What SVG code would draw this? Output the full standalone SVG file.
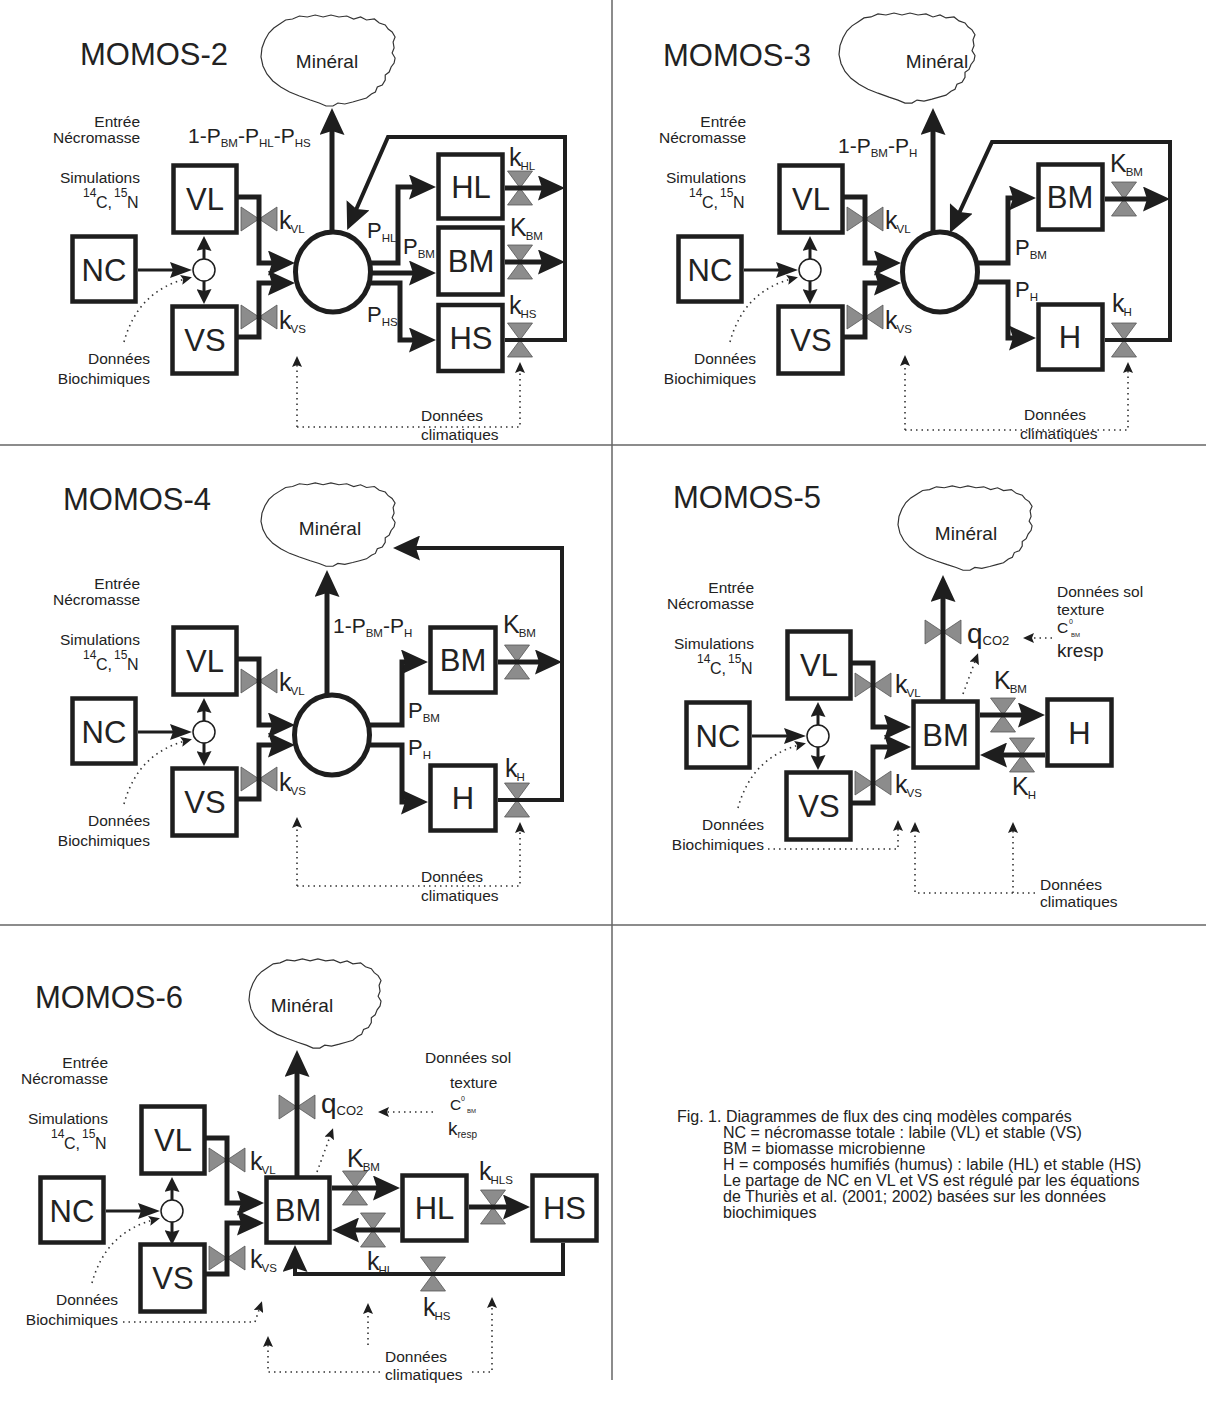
<svg xmlns="http://www.w3.org/2000/svg" width="1206" height="1405" viewBox="0 0 1206 1405">
<style>
text{font-family:"Liberation Sans",Arial,sans-serif;fill:#222}
.ttl{font-size:31px}
.bl{font-size:31px;text-anchor:middle}
.sm{font-size:15.5px}
.iso{font-size:12px}
.cn{font-size:16px}
.lab{font-size:22px}
.kl{font-size:25px}
.sub{font-size:11.5px}
.mn{font-size:19px;text-anchor:middle}
.cap{font-size:16px}
.box{fill:#fff;stroke:#1e1e1e;stroke-width:4.5}
.ell{fill:#fff;stroke:#1e1e1e;stroke-width:5}
.l5{fill:none;stroke:#1e1e1e;stroke-width:5}
.l4{fill:none;stroke:#1e1e1e;stroke-width:4}
.l3{fill:none;stroke:#1e1e1e;stroke-width:3}
.dot{fill:none;stroke:#333;stroke-width:1.6;stroke-dasharray:1.5 4}
.junc{fill:#fff;stroke:#1e1e1e;stroke-width:1.5}
.cloud{fill:#fff;stroke:#333;stroke-width:1.2}
.sep{stroke:#666;stroke-width:1.5}
.valve polygon{fill:#8c8c8c;stroke:#555;stroke-width:0.8}
</style>
<defs>
<marker id="ab" viewBox="0 0 27 25" markerWidth="27" markerHeight="25" refX="15" refY="12.5" orient="auto" markerUnits="userSpaceOnUse"><path d="M0,0 L27,12.5 L0,25 L4,12.5 Z" fill="#1e1e1e"/></marker>
<marker id="am" viewBox="0 0 22 16" markerWidth="22" markerHeight="16" refX="14" refY="8" orient="auto" markerUnits="userSpaceOnUse"><path d="M0,0 L22,8 L0,16 L3,8 Z" fill="#1e1e1e"/></marker>
<marker id="as" viewBox="0 0 15 15" markerWidth="15" markerHeight="15" refX="9" refY="7.5" orient="auto" markerUnits="userSpaceOnUse"><path d="M0,0 L15,7.5 L0,15 L2,7.5 Z" fill="#1e1e1e"/></marker>
<marker id="ad" viewBox="0 0 11 10" markerWidth="11" markerHeight="10" refX="8" refY="5" orient="auto" markerUnits="userSpaceOnUse"><path d="M0,0 L11,5 L0,10 L2,5 Z" fill="#1e1e1e"/></marker>
<g id="vh" class="valve"><polygon points="-18,-12 -18,12 0,0"/><polygon points="18,-12 18,12 0,0"/></g>
<g id="vv" class="valve"><polygon points="-12.5,-17 12.5,-17 0,0"/><polygon points="-12.5,17 12.5,17 0,0"/></g>
<path id="cl" d="M20,10 L14,14 L9,19 L5,26 L2,34 L1,43 L3,52 L7,60 L13,67 L21,73 L30,78 L40,82 L51,86 L60,89 L67,92 L74,92 L79,89 L86,90 L94,88 L101,86 L108,84 L113,80 L117,78 L119,73 L124,71 L127,66 L127,61 L131,58 L133,53 L136,49 L137,44 L134,39 L136,34 L135,28 L137,23 L134,18 L130,15 L127,11 L121,9 L116,5 L108,6 L102,3 L95,5 L88,2 L80,3 L72,1 L64,3 L56,1 L48,3 L40,2 L33,5 L26,6 Z"/>
</defs>
<rect width="1206" height="1405" fill="#fff"/>

<g id="separators">
<line x1="0" y1="445" x2="1206" y2="445" class="sep"/>
<line x1="0" y1="925" x2="1206" y2="925" class="sep"/>
<line x1="612" y1="0" x2="612" y2="1380" class="sep"/>
</g>

<!-- ================= PANEL 1 : MOMOS-2 ================= -->
<g id="panel1">
<text x="80" y="65" class="ttl">MOMOS-2</text>
<g id="p1-mineral"><use href="#cl" class="cloud" transform="translate(260,14) scale(0.986,1)" style="vector-effect:non-scaling-stroke"/><text x="327" y="68" class="mn">Minéral</text></g>
<g id="p1-left">
<text x="140" y="127" class="sm" text-anchor="end">Entrée</text>
<text x="140" y="143" class="sm" text-anchor="end">Nécromasse</text>
<text x="140" y="183" class="sm" text-anchor="end">Simulations</text>
<text x="83" y="197" class="iso">14</text><text x="96" y="208" class="cn">C,</text>
<text x="114" y="197" class="iso">15</text><text x="127" y="208" class="cn">N</text>
<text x="150" y="364" class="sm" text-anchor="end">Données</text>
<text x="150" y="384" class="sm" text-anchor="end">Biochimiques</text>
</g>
<g id="p1-valves"><use href="#vh" x="259" y="219"/><use href="#vh" x="259" y="317"/><use href="#vv" x="520" y="188"/><use href="#vv" x="520" y="262"/><use href="#vv" x="520" y="340"/></g>
<g id="p1-connectors">
<path d="M138,270 H184" class="l3" marker-end="url(#am)"/>
<path d="M204,259 V242" class="l3" marker-end="url(#as)"/>
<path d="M204,281 V298" class="l3" marker-end="url(#as)"/>
<path d="M236,197 H259 V263 H283" class="l5" marker-end="url(#ab)"/>
<path d="M237,337 H259 V283 H283" class="l5" marker-end="url(#ab)"/>
<path d="M124,342 Q138,290 189,278" class="dot" marker-end="url(#ad)"/>
<path d="M332,232 V120" class="l5" marker-end="url(#ab)"/>
<path d="M368,263 H398 V187 H424" class="l5" marker-end="url(#ab)"/>
<path d="M370,273 H424" class="l5" marker-end="url(#ab)"/>
<path d="M368,283 H400 V340 H424" class="l5" marker-end="url(#ab)"/>
<path d="M505,188 H553" class="l5" marker-end="url(#ab)"/>
<path d="M505,262 H553" class="l5" marker-end="url(#ab)"/>
<path d="M505,340 H565 V137 H388 L352,219" class="l4" marker-end="url(#ab)"/>
<path d="M297,427 V359" class="dot" marker-end="url(#ad)"/>
<path d="M297,427 H520 V365" class="dot" marker-end="url(#ad)"/>
</g>
<g id="p1-NC"><rect x="72.5" y="236.5" width="63" height="65" class="box"/><text x="104" y="281" class="bl">NC</text></g>
<g id="p1-VL"><rect x="173.5" y="165.5" width="63" height="67" class="box"/><text x="205" y="210" class="bl">VL</text></g>
<g id="p1-VS"><rect x="172.5" y="306.5" width="64" height="67" class="box"/><text x="205" y="351" class="bl">VS</text></g>
<g id="p1-junction"><circle cx="204" cy="270" r="11" class="junc"/></g>
<g id="p1-pool"><ellipse cx="333" cy="272" rx="37.5" ry="40" class="ell"/></g>
<g id="p1-HL"><rect x="438.5" y="154.5" width="64" height="64" class="box"/><text x="471" y="198" class="bl">HL</text></g>
<g id="p1-BM"><rect x="438.5" y="227.5" width="64" height="67" class="box"/><text x="471" y="272" class="bl">BM</text></g>
<g id="p1-HS"><rect x="438.5" y="305" width="64" height="66" class="box"/><text x="471" y="349" class="bl">HS</text></g>
<g id="p1-labels">
<text x="188" y="143" style="font-size:21px">1-P<tspan class="sub" dy="4">BM</tspan><tspan dy="-4">-P</tspan><tspan class="sub" dy="4">HL</tspan><tspan dy="-4">-P</tspan><tspan class="sub" dy="4">HS</tspan></text>
<text x="279" y="229" class="kl">k<tspan class="sub" dx="-1" dy="4">VL</tspan></text>
<text x="279" y="329" class="kl">k<tspan class="sub" dx="-1" dy="4">VS</tspan></text>
<text x="367" y="238" class="lab">P<tspan class="sub" dy="4">HL</tspan></text>
<text x="403" y="254" class="lab">P<tspan class="sub" dy="4">BM</tspan></text>
<text x="367" y="322" class="lab">P<tspan class="sub" dy="4">HS</tspan></text>
<text x="509" y="166" class="kl">k<tspan class="sub" dx="-1" dy="4">HL</tspan></text>
<text x="510" y="236" class="kl">K<tspan class="sub" dx="-1" dy="4">BM</tspan></text>
<text x="509" y="314" class="kl">k<tspan class="sub" dx="-1" dy="4">HS</tspan></text>
<text x="421" y="421" class="sm">Données</text>
<text x="421" y="440" class="sm">climatiques</text>
</g>
</g>

<!-- ================= PANEL 2 : MOMOS-3 ================= -->
<g id="panel2">
<text x="663" y="66" class="ttl">MOMOS-3</text>
<g id="p2-mineral"><use href="#cl" class="cloud" transform="translate(838,12) scale(1,0.99)" style="vector-effect:non-scaling-stroke"/><text x="937" y="68" class="mn">Minéral</text></g>
<g transform="translate(606,0)">
<g id="p2-left">
<text x="140" y="127" class="sm" text-anchor="end">Entrée</text>
<text x="140" y="143" class="sm" text-anchor="end">Nécromasse</text>
<text x="140" y="183" class="sm" text-anchor="end">Simulations</text>
<text x="83" y="197" class="iso">14</text><text x="96" y="208" class="cn">C,</text>
<text x="114" y="197" class="iso">15</text><text x="127" y="208" class="cn">N</text>
<text x="150" y="364" class="sm" text-anchor="end">Données</text>
<text x="150" y="384" class="sm" text-anchor="end">Biochimiques</text>
</g>
<g id="p2-valves-left"><use href="#vh" x="259" y="219"/><use href="#vh" x="259" y="317"/></g>
<g id="p2-connectors-left">
<path d="M138,270 H184" class="l3" marker-end="url(#am)"/>
<path d="M204,259 V242" class="l3" marker-end="url(#as)"/>
<path d="M204,281 V298" class="l3" marker-end="url(#as)"/>
<path d="M236,197 H259 V263 H283" class="l5" marker-end="url(#ab)"/>
<path d="M237,337 H259 V283 H283" class="l5" marker-end="url(#ab)"/>
<path d="M124,342 Q138,290 189,278" class="dot" marker-end="url(#ad)"/>
</g>
<g id="p2-NC"><rect x="72.5" y="236.5" width="63" height="65" class="box"/><text x="104" y="281" class="bl">NC</text></g>
<g id="p2-VL"><rect x="173.5" y="165.5" width="63" height="67" class="box"/><text x="205" y="210" class="bl">VL</text></g>
<g id="p2-VS"><rect x="172.5" y="306.5" width="64" height="67" class="box"/><text x="205" y="351" class="bl">VS</text></g>
<g id="p2-junction"><circle cx="204" cy="270" r="11" class="junc"/></g>
<text x="279" y="229" class="kl">k<tspan class="sub" dx="-1" dy="4">VL</tspan></text>
<text x="279" y="329" class="kl">k<tspan class="sub" dx="-1" dy="4">VS</tspan></text>
</g>
<g id="p2-valves"><use href="#vv" x="1124" y="199"/><use href="#vv" x="1124" y="340"/></g>
<g id="p2-connectors">
<path d="M933,234 V120" class="l5" marker-end="url(#ab)"/>
<path d="M976,263 H1008 V198 H1024" class="l5" marker-end="url(#ab)"/>
<path d="M976,282 H1008 V338 H1024" class="l5" marker-end="url(#ab)"/>
<path d="M1105,199 H1158" class="l5" marker-end="url(#ab)"/>
<path d="M1105,340 H1170 V142 H992 L955,222" class="l4" marker-end="url(#ab)"/>
<path d="M905,430 V358" class="dot" marker-end="url(#ad)"/>
<path d="M905,430 H1128 V365" class="dot" marker-end="url(#ad)"/>
</g>
<g id="p2-pool"><ellipse cx="940" cy="272" rx="37.5" ry="40" class="ell"/></g>
<g id="p2-BM"><rect x="1038.5" y="164.5" width="64" height="65" class="box"/><text x="1070" y="208" class="bl">BM</text></g>
<g id="p2-H"><rect x="1038.5" y="304.5" width="64" height="65" class="box"/><text x="1070" y="348" class="bl">H</text></g>
<g id="p2-labels">
<text x="838" y="153" style="font-size:21px">1-P<tspan class="sub" dy="4">BM</tspan><tspan dy="-4">-P</tspan><tspan class="sub" dy="4">H</tspan></text>
<text x="1015" y="255" class="lab">P<tspan class="sub" dy="4">BM</tspan></text>
<text x="1015" y="297" class="lab">P<tspan class="sub" dy="4">H</tspan></text>
<text x="1110" y="172" class="kl">K<tspan class="sub" dx="-1" dy="4">BM</tspan></text>
<text x="1112" y="312" class="kl">k<tspan class="sub" dx="-1" dy="4">H</tspan></text>
<text x="1024" y="420" class="sm">Données</text>
<text x="1020" y="439" class="sm">climatiques</text>
</g>
</g>

<!-- ================= PANEL 3 : MOMOS-4 ================= -->
<g id="panel3">
<text x="63" y="510" class="ttl">MOMOS-4</text>
<g id="p3-mineral"><use href="#cl" class="cloud" transform="translate(260,482) scale(0.986,0.915)" style="vector-effect:non-scaling-stroke"/><text x="330" y="535" class="mn">Minéral</text></g>
<g transform="translate(0,462)">
<g id="p3-left">
<text x="140" y="127" class="sm" text-anchor="end">Entrée</text>
<text x="140" y="143" class="sm" text-anchor="end">Nécromasse</text>
<text x="140" y="183" class="sm" text-anchor="end">Simulations</text>
<text x="83" y="197" class="iso">14</text><text x="96" y="208" class="cn">C,</text>
<text x="114" y="197" class="iso">15</text><text x="127" y="208" class="cn">N</text>
<text x="150" y="364" class="sm" text-anchor="end">Données</text>
<text x="150" y="384" class="sm" text-anchor="end">Biochimiques</text>
</g>
<g id="p3-valves-left"><use href="#vh" x="259" y="219"/><use href="#vh" x="259" y="317"/></g>
<g id="p3-connectors-left">
<path d="M138,270 H184" class="l3" marker-end="url(#am)"/>
<path d="M204,259 V242" class="l3" marker-end="url(#as)"/>
<path d="M204,281 V298" class="l3" marker-end="url(#as)"/>
<path d="M236,197 H259 V263 H283" class="l5" marker-end="url(#ab)"/>
<path d="M237,337 H259 V283 H283" class="l5" marker-end="url(#ab)"/>
<path d="M124,342 Q138,290 189,278" class="dot" marker-end="url(#ad)"/>
</g>
<g id="p3-NC"><rect x="72.5" y="236.5" width="63" height="65" class="box"/><text x="104" y="281" class="bl">NC</text></g>
<g id="p3-VL"><rect x="173.5" y="165.5" width="63" height="67" class="box"/><text x="205" y="210" class="bl">VL</text></g>
<g id="p3-VS"><rect x="172.5" y="306.5" width="64" height="67" class="box"/><text x="205" y="351" class="bl">VS</text></g>
<g id="p3-junction"><circle cx="204" cy="270" r="11" class="junc"/></g>
<text x="279" y="229" class="kl">k<tspan class="sub" dx="-1" dy="4">VL</tspan></text>
<text x="279" y="329" class="kl">k<tspan class="sub" dx="-1" dy="4">VS</tspan></text>
</g>
<g id="p3-valves"><use href="#vv" x="517" y="662"/><use href="#vv" x="517" y="800"/></g>
<g id="p3-connectors">
<path d="M327,696 V582" class="l5" marker-end="url(#ab)"/>
<path d="M368,725 H402 V662 H416" class="l5" marker-end="url(#ab)"/>
<path d="M368,745 H402 V802 H416" class="l5" marker-end="url(#ab)"/>
<path d="M498,662 H550" class="l5" marker-end="url(#ab)"/>
<path d="M498,800 H562 V548 H405" class="l4" marker-end="url(#ab)"/>
<path d="M297,886 V820" class="dot" marker-end="url(#ad)"/>
<path d="M297,886 H520 V825" class="dot" marker-end="url(#ad)"/>
</g>
<g id="p3-pool"><ellipse cx="332" cy="735" rx="37.5" ry="40" class="ell"/></g>
<g id="p3-BM"><rect x="430.5" y="627.5" width="65" height="65" class="box"/><text x="463" y="671" class="bl">BM</text></g>
<g id="p3-H"><rect x="430.5" y="765.5" width="65" height="65" class="box"/><text x="463" y="809" class="bl">H</text></g>
<g id="p3-labels">
<text x="333" y="633" style="font-size:21px">1-P<tspan class="sub" dy="4">BM</tspan><tspan dy="-4">-P</tspan><tspan class="sub" dy="4">H</tspan></text>
<text x="408" y="718" class="lab">P<tspan class="sub" dy="4">BM</tspan></text>
<text x="408" y="755" class="lab">P<tspan class="sub" dy="4">H</tspan></text>
<text x="503" y="633" class="kl">K<tspan class="sub" dx="-1" dy="4">BM</tspan></text>
<text x="505" y="777" class="kl">k<tspan class="sub" dx="-1" dy="4">H</tspan></text>
<text x="421" y="882" class="sm">Données</text>
<text x="421" y="901" class="sm">climatiques</text>
</g>
</g>

<!-- ================= PANEL 4 : MOMOS-5 ================= -->
<g id="panel4">
<text x="673" y="508" class="ttl">MOMOS-5</text>
<g id="p4-mineral"><use href="#cl" class="cloud" transform="translate(897,485) scale(0.986,0.926)" style="vector-effect:non-scaling-stroke"/><text x="966" y="540" class="mn">Minéral</text></g>
<g transform="translate(614,466)">
<g id="p4-left">
<text x="140" y="127" class="sm" text-anchor="end">Entrée</text>
<text x="140" y="143" class="sm" text-anchor="end">Nécromasse</text>
<text x="140" y="183" class="sm" text-anchor="end">Simulations</text>
<text x="83" y="197" class="iso">14</text><text x="96" y="208" class="cn">C,</text>
<text x="114" y="197" class="iso">15</text><text x="127" y="208" class="cn">N</text>
<text x="150" y="364" class="sm" text-anchor="end">Données</text>
<text x="150" y="384" class="sm" text-anchor="end">Biochimiques</text>
</g>
<g id="p4-valves-left"><use href="#vh" x="259" y="219"/><use href="#vh" x="259" y="317"/></g>
<g id="p4-connectors-left">
<path d="M138,270 H184" class="l3" marker-end="url(#am)"/>
<path d="M204,259 V242" class="l3" marker-end="url(#as)"/>
<path d="M204,281 V298" class="l3" marker-end="url(#as)"/>
<path d="M236,197 H259 V261 H285" class="l5" marker-end="url(#ab)"/>
<path d="M237,337 H259 V281 H285" class="l5" marker-end="url(#ab)"/>
<path d="M124,342 Q138,290 189,278" class="dot" marker-end="url(#ad)"/>
</g>
<g id="p4-NC"><rect x="72.5" y="236.5" width="63" height="65" class="box"/><text x="104" y="281" class="bl">NC</text></g>
<g id="p4-VL"><rect x="173.5" y="165.5" width="63" height="67" class="box"/><text x="205" y="210" class="bl">VL</text></g>
<g id="p4-VS"><rect x="172.5" y="306.5" width="64" height="67" class="box"/><text x="205" y="351" class="bl">VS</text></g>
<g id="p4-junction"><circle cx="204" cy="270" r="11" class="junc"/></g>
<text x="281" y="227" class="kl">k<tspan class="sub" dx="-1" dy="4">VL</tspan></text>
<text x="281" y="327" class="kl">k<tspan class="sub" dx="-1" dy="4">VS</tspan></text>
</g>
<g id="p4-valves"><use href="#vh" x="943" y="632"/><use href="#vv" x="1003" y="715"/><use href="#vv" x="1022" y="755"/></g>
<g id="p4-connectors">
<path d="M943,700 V587" class="l5" marker-end="url(#ab)"/>
<path d="M980,715 H1033" class="l5" marker-end="url(#ab)"/>
<path d="M1045,755 H992" class="l5" marker-end="url(#ab)"/>
<path d="M1052,638 H1026" class="dot" marker-end="url(#ad)"/>
<path d="M963,694 L977,656" class="dot" marker-end="url(#ad)"/>
<path d="M768,849 H898 V823" class="dot" marker-end="url(#ad)"/>
<path d="M1035,893 H915 V825" class="dot" marker-end="url(#ad)"/>
<path d="M1013,893 V825" class="dot" marker-end="url(#ad)"/>
</g>
<g id="p4-BM"><rect x="913.5" y="701.5" width="64" height="66" class="box"/><text x="945.5" y="746" class="bl">BM</text></g>
<g id="p4-H"><rect x="1047.5" y="699.5" width="64" height="66" class="box"/><text x="1079.5" y="744" class="bl">H</text></g>
<g id="p4-labels">
<text x="967" y="643" style="font-size:28px">q<tspan class="sub" style="font-size:13px" dy="2">CO2</tspan></text>
<text x="1057" y="597" class="sm">Données sol</text>
<text x="1057" y="615" class="sm">texture</text>
<text x="1057" y="633" class="sm">C</text><text x="1069" y="624" style="font-size:7px">0</text><text x="1071" y="637" style="font-size:6px">BM</text>
<text x="1057" y="657" style="font-size:19px">kresp</text>
<text x="994" y="689" class="kl">K<tspan class="sub" dx="-1" dy="4">BM</tspan></text>
<text x="1012" y="795" class="kl">K<tspan class="sub" dx="-1" dy="4">H</tspan></text>
<text x="1040" y="890" class="sm">Données</text>
<text x="1040" y="907" class="sm">climatiques</text>
</g>
</g>

<!-- ================= PANEL 5 : MOMOS-6 ================= -->
<g id="panel5">
<text x="35" y="1008" class="ttl">MOMOS-6</text>
<g id="p5-mineral"><use href="#cl" class="cloud" transform="translate(248,958) scale(0.971,0.979)" style="vector-effect:non-scaling-stroke"/><text x="302" y="1012" class="mn">Minéral</text></g>
<g transform="translate(-32,941)">
<g id="p5-left">
<text x="140" y="127" class="sm" text-anchor="end">Entrée</text>
<text x="140" y="143" class="sm" text-anchor="end">Nécromasse</text>
<text x="140" y="183" class="sm" text-anchor="end">Simulations</text>
<text x="83" y="197" class="iso">14</text><text x="96" y="208" class="cn">C,</text>
<text x="114" y="197" class="iso">15</text><text x="127" y="208" class="cn">N</text>
<text x="150" y="364" class="sm" text-anchor="end">Données</text>
<text x="150" y="384" class="sm" text-anchor="end">Biochimiques</text>
</g>
<g id="p5-valves-left"><use href="#vh" x="259" y="219"/><use href="#vh" x="259" y="317"/></g>
<g id="p5-connectors-left">
<path d="M138,270 H184" class="l3" marker-end="url(#am)"/>
<path d="M204,259 V242" class="l3" marker-end="url(#as)"/>
<path d="M204,281 V298" class="l3" marker-end="url(#as)"/>
<path d="M236,197 H259 V262 H284" class="l5" marker-end="url(#ab)"/>
<path d="M237,333 H259 V282 H284" class="l5" marker-end="url(#ab)"/>
<path d="M124,342 Q138,290 189,278" class="dot" marker-end="url(#ad)"/>
</g>
<g id="p5-NC"><rect x="72.5" y="236.5" width="63" height="65" class="box"/><text x="104" y="281" class="bl">NC</text></g>
<g id="p5-VL"><rect x="173.5" y="165.5" width="63" height="67" class="box"/><text x="205" y="210" class="bl">VL</text></g>
<g id="p5-VS"><rect x="172.5" y="303.5" width="64" height="67" class="box"/><text x="205" y="348" class="bl">VS</text></g>
<g id="p5-junction"><circle cx="204" cy="270" r="11" class="junc"/></g>
<text x="282" y="229" class="kl">k<tspan class="sub" dx="-1" dy="4">VL</tspan></text>
<text x="282" y="327" class="kl">k<tspan class="sub" dx="-1" dy="4">VS</tspan></text>
</g>
<g id="p5-valves"><use href="#vh" x="297" y="1107"/><use href="#vv" x="355" y="1188"/><use href="#vv" x="373" y="1230"/><use href="#vv" x="493" y="1207"/><use href="#vv" x="433" y="1274"/></g>
<g id="p5-connectors">
<path d="M297,1176 V1062" class="l5" marker-end="url(#ab)"/>
<path d="M332,1188 H388" class="l5" marker-end="url(#ab)"/>
<path d="M400,1230 H344" class="l5" marker-end="url(#ab)"/>
<path d="M469,1207 H518" class="l5" marker-end="url(#ab)"/>
<path d="M563,1243 V1274 H295 V1257" class="l4" marker-end="url(#ab)"/>
<path d="M433,1112 H381" class="dot" marker-end="url(#ad)"/>
<path d="M317,1172 L332,1131" class="dot" marker-end="url(#ad)"/>
<path d="M123,1322 H255 L261,1304" class="dot" marker-end="url(#ad)"/>
<path d="M380,1372 H268 V1339" class="dot" marker-end="url(#ad)"/>
<path d="M368,1345 V1306" class="dot" marker-end="url(#ad)"/>
<path d="M472,1372 H492 V1300" class="dot" marker-end="url(#ad)"/>
</g>
<g id="p5-BM"><rect x="266.5" y="1177.5" width="63" height="65" class="box"/><text x="298" y="1221" class="bl">BM</text></g>
<g id="p5-HL"><rect x="402.5" y="1175.5" width="64" height="65" class="box"/><text x="434.5" y="1219" class="bl">HL</text></g>
<g id="p5-HS"><rect x="532.5" y="1175.5" width="64" height="65" class="box"/><text x="564.5" y="1219" class="bl">HS</text></g>
<g id="p5-labels">
<text x="321" y="1113" style="font-size:28px">q<tspan class="sub" style="font-size:13px" dy="2">CO2</tspan></text>
<text x="425" y="1063" class="sm">Données sol</text>
<text x="450" y="1088" class="sm">texture</text>
<text x="450" y="1110" class="sm">C</text><text x="461" y="1101" style="font-size:7px">0</text><text x="467" y="1113" style="font-size:6px">BM</text>
<text x="448" y="1135" style="font-size:19px">k<tspan style="font-size:10px" dy="3">resp</tspan></text>
<text x="347" y="1167" class="kl">K<tspan class="sub" dx="-1" dy="4">BM</tspan></text>
<text x="367" y="1270" class="kl">k<tspan class="sub" dx="-1" dy="4">HL</tspan></text>
<text x="479" y="1180" class="kl">k<tspan class="sub" dx="-1" dy="4">HLS</tspan></text>
<text x="423" y="1316" class="kl">k<tspan class="sub" dx="-1" dy="4">HS</tspan></text>
<text x="385" y="1362" class="sm">Données</text>
<text x="385" y="1380" class="sm">climatiques</text>
</g>
</g>

<g id="caption">
<text x="677" y="1122" class="cap">Fig. 1. Diagrammes de flux des cinq modèles comparés</text>
<text x="723" y="1138" class="cap">NC = nécromasse totale : labile (VL) et stable (VS)</text>
<text x="723" y="1154" class="cap">BM = biomasse microbienne</text>
<text x="723" y="1170" class="cap">H = composés humifiés (humus) : labile (HL) et stable (HS)</text>
<text x="723" y="1186" class="cap">Le partage de NC en VL et VS est régulé par les équations</text>
<text x="723" y="1202" class="cap">de Thuriès et al. (2001; 2002) basées sur les données</text>
<text x="723" y="1218" class="cap">biochimiques</text>
</g>
</svg>
